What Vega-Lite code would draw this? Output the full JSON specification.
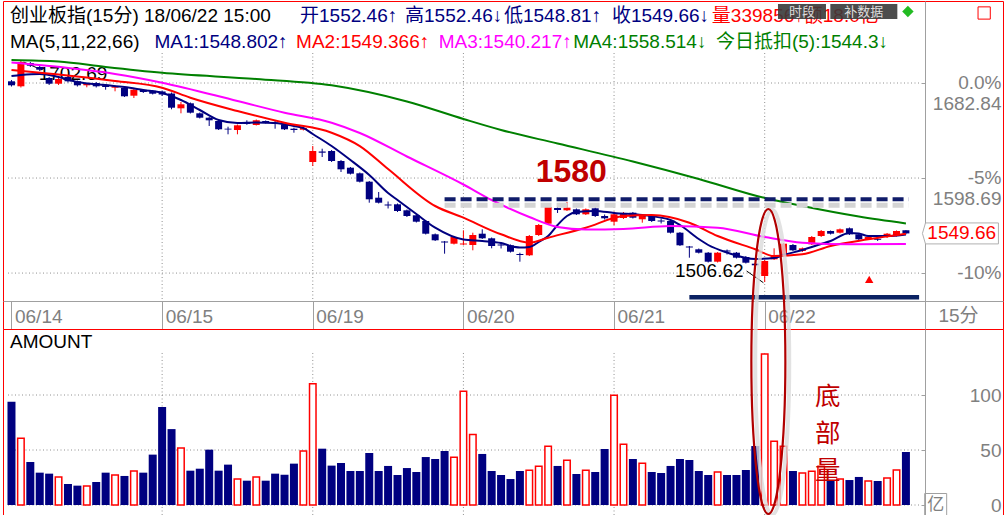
{
  "$schema": "https://vega.github.io/schema/vega-lite/v6.json",
  "background": "white",
  "padding": {"left": 2, "top": 0, "right": 0, "bottom": 0},
  "bounds": "flush",
  "spacing": 0,
  "config": {
    "view": {"stroke": "#ff0000", "strokeWidth": 1},
    "axis": {"labelFont": "Liberation Sans, Noto Sans CJK SC", "labelFontSize": 19, "labelColor": "#808080", "domainColor": "#a0a0a0", "tickColor": "#a0a0a0", "grid": false, "title": null}
  },
  "datasets": {
    "candles": [
      {"i":0,"o":1684.35,"h":1685.50,"l":1679.74,"c":1680.80,"amt":93.9,"d":"dn"},
      {"i":1,"o":1679.92,"h":1702.69,"l":1678.86,"c":1701.43,"amt":60.6,"d":"up"},
      {"i":2,"o":1700.55,"h":1701.43,"l":1697.01,"c":1698.16,"amt":39.1,"d":"dn"},
      {"i":3,"o":1697.01,"h":1697.89,"l":1693.46,"c":1694.62,"amt":29.4,"d":"dn"},
      {"i":4,"o":1687.27,"h":1688.15,"l":1681.07,"c":1682.22,"amt":28.5,"d":"dn"},
      {"i":5,"o":1682.22,"h":1687.27,"l":1681.07,"c":1686.38,"amt":25.5,"d":"up"},
      {"i":6,"o":1688.15,"h":1689.04,"l":1683.28,"c":1684.35,"amt":19.1,"d":"dn"},
      {"i":7,"o":1684.35,"h":1685.05,"l":1679.74,"c":1680.80,"amt":17.6,"d":"dn"},
      {"i":8,"o":1680.80,"h":1682.84,"l":1679.03,"c":1682.22,"amt":17.3,"d":"up"},
      {"i":9,"o":1682.84,"h":1683.73,"l":1678.86,"c":1679.92,"amt":20.9,"d":"dn"},
      {"i":10,"o":1680.80,"h":1681.96,"l":1676.91,"c":1679.30,"amt":29.4,"d":"dn"},
      {"i":11,"o":1678.68,"h":1680.63,"l":1675.49,"c":1679.92,"amt":27.3,"d":"up"},
      {"i":12,"o":1678.41,"h":1678.86,"l":1670.45,"c":1671.07,"amt":26.4,"d":"dn"},
      {"i":13,"o":1671.60,"h":1677.53,"l":1669.56,"c":1676.91,"amt":30.9,"d":"up"},
      {"i":14,"o":1676.91,"h":1677.53,"l":1673.99,"c":1674.87,"amt":29.4,"d":"dn"},
      {"i":15,"o":1676.02,"h":1676.64,"l":1672.66,"c":1673.37,"amt":45.8,"d":"dn"},
      {"i":16,"o":1675.32,"h":1676.20,"l":1671.33,"c":1672.66,"amt":89.0,"d":"dn"},
      {"i":17,"o":1673.54,"h":1674.43,"l":1659.56,"c":1660.97,"amt":69.0,"d":"dn"},
      {"i":18,"o":1660.44,"h":1666.02,"l":1656.01,"c":1663.98,"amt":51.8,"d":"up"},
      {"i":19,"o":1664.87,"h":1665.58,"l":1655.84,"c":1656.55,"amt":31.2,"d":"dn"},
      {"i":20,"o":1656.01,"h":1656.72,"l":1651.41,"c":1652.12,"amt":33.0,"d":"dn"},
      {"i":21,"o":1652.12,"h":1652.74,"l":1644.77,"c":1649.82,"amt":50.3,"d":"dn"},
      {"i":22,"o":1649.20,"h":1649.82,"l":1641.23,"c":1641.85,"amt":31.2,"d":"dn"},
      {"i":23,"o":1642.38,"h":1644.15,"l":1637.42,"c":1641.67,"amt":36.7,"d":"dn"},
      {"i":24,"o":1641.23,"h":1646.10,"l":1637.42,"c":1645.39,"amt":23.6,"d":"up"},
      {"i":25,"o":1647.43,"h":1649.82,"l":1645.83,"c":1646.54,"amt":22.1,"d":"dn"},
      {"i":26,"o":1645.66,"h":1650.53,"l":1645.21,"c":1649.82,"amt":25.5,"d":"up"},
      {"i":27,"o":1649.20,"h":1649.64,"l":1646.98,"c":1647.69,"amt":22.1,"d":"dn"},
      {"i":28,"o":1647.69,"h":1649.20,"l":1642.38,"c":1646.54,"amt":28.5,"d":"dn"},
      {"i":29,"o":1646.28,"h":1646.98,"l":1641.23,"c":1641.85,"amt":27.5,"d":"dn"},
      {"i":30,"o":1642.38,"h":1643.27,"l":1638.84,"c":1641.23,"amt":37.6,"d":"dn"},
      {"i":31,"o":1641.49,"h":1643.88,"l":1640.79,"c":1643.00,"amt":49.1,"d":"up"},
      {"i":32,"o":1612.90,"h":1627.06,"l":1609.36,"c":1622.64,"amt":110.3,"d":"up"},
      {"i":33,"o":1622.19,"h":1624.67,"l":1617.32,"c":1621.13,"amt":51.2,"d":"dn"},
      {"i":34,"o":1622.64,"h":1623.52,"l":1612.90,"c":1613.78,"amt":35.8,"d":"dn"},
      {"i":35,"o":1613.78,"h":1614.67,"l":1604.04,"c":1606.43,"amt":38.2,"d":"dn"},
      {"i":36,"o":1607.85,"h":1608.47,"l":1601.83,"c":1602.54,"amt":30.9,"d":"dn"},
      {"i":37,"o":1602.89,"h":1603.60,"l":1594.75,"c":1595.46,"amt":30.9,"d":"dn"},
      {"i":38,"o":1595.46,"h":1596.08,"l":1576.86,"c":1579.87,"amt":47.3,"d":"dn"},
      {"i":39,"o":1581.29,"h":1586.34,"l":1576.16,"c":1576.86,"amt":30.9,"d":"dn"},
      {"i":40,"o":1575.27,"h":1577.93,"l":1571.73,"c":1574.39,"amt":35.5,"d":"dn"},
      {"i":41,"o":1575.45,"h":1576.16,"l":1568.63,"c":1569.52,"amt":27.3,"d":"dn"},
      {"i":42,"o":1570.13,"h":1570.84,"l":1564.20,"c":1565.09,"amt":33.6,"d":"dn"},
      {"i":43,"o":1565.71,"h":1566.42,"l":1559.33,"c":1560.04,"amt":30.0,"d":"dn"},
      {"i":44,"o":1560.66,"h":1561.55,"l":1548.71,"c":1549.42,"amt":43.6,"d":"dn"},
      {"i":45,"o":1548.89,"h":1549.60,"l":1542.96,"c":1543.58,"amt":41.8,"d":"dn"},
      {"i":46,"o":1542.51,"h":1542.96,"l":1531.71,"c":1541.63,"amt":49.1,"d":"dn"},
      {"i":47,"o":1540.57,"h":1547.38,"l":1539.86,"c":1546.50,"amt":43.3,"d":"up"},
      {"i":48,"o":1539.86,"h":1552.43,"l":1539.41,"c":1540.74,"amt":103.3,"d":"up"},
      {"i":49,"o":1539.41,"h":1550.30,"l":1534.72,"c":1548.27,"amt":64.2,"d":"up"},
      {"i":50,"o":1549.42,"h":1553.31,"l":1544.73,"c":1545.35,"amt":46.4,"d":"dn"},
      {"i":51,"o":1545.35,"h":1546.05,"l":1536.49,"c":1538.53,"amt":30.9,"d":"dn"},
      {"i":52,"o":1539.86,"h":1541.63,"l":1536.32,"c":1538.97,"amt":27.3,"d":"dn"},
      {"i":53,"o":1539.15,"h":1539.86,"l":1532.77,"c":1533.48,"amt":23.6,"d":"dn"},
      {"i":54,"o":1531.45,"h":1532.60,"l":1524.63,"c":1530.56,"amt":30.9,"d":"dn"},
      {"i":55,"o":1530.29,"h":1548.27,"l":1529.67,"c":1547.38,"amt":31.5,"d":"up"},
      {"i":56,"o":1548.27,"h":1558.01,"l":1547.38,"c":1557.12,"amt":35.2,"d":"up"},
      {"i":57,"o":1558.27,"h":1573.94,"l":1557.56,"c":1573.06,"amt":53.3,"d":"up"},
      {"i":58,"o":1572.17,"h":1573.94,"l":1567.75,"c":1570.40,"amt":35.5,"d":"dn"},
      {"i":59,"o":1570.13,"h":1577.48,"l":1569.52,"c":1572.44,"amt":40.6,"d":"up"},
      {"i":60,"o":1571.02,"h":1571.73,"l":1565.97,"c":1566.59,"amt":28.2,"d":"dn"},
      {"i":61,"o":1566.59,"h":1571.73,"l":1565.97,"c":1571.02,"amt":31.5,"d":"up"},
      {"i":62,"o":1571.91,"h":1572.61,"l":1564.20,"c":1565.09,"amt":30.0,"d":"dn"},
      {"i":63,"o":1565.09,"h":1566.42,"l":1561.99,"c":1563.05,"amt":50.9,"d":"dn"},
      {"i":64,"o":1560.04,"h":1568.90,"l":1556.86,"c":1566.59,"amt":99.7,"d":"up"},
      {"i":65,"o":1563.32,"h":1568.63,"l":1562.43,"c":1567.75,"amt":55.2,"d":"up"},
      {"i":66,"o":1568.01,"h":1568.63,"l":1562.88,"c":1563.58,"amt":41.8,"d":"dn"},
      {"i":67,"o":1562.17,"h":1565.97,"l":1559.16,"c":1565.09,"amt":37.9,"d":"up"},
      {"i":68,"o":1565.09,"h":1565.97,"l":1559.78,"c":1560.66,"amt":30.0,"d":"dn"},
      {"i":69,"o":1561.10,"h":1562.88,"l":1558.45,"c":1560.22,"amt":29.1,"d":"dn"},
      {"i":70,"o":1560.66,"h":1561.55,"l":1549.60,"c":1550.30,"amt":35.5,"d":"dn"},
      {"i":71,"o":1550.30,"h":1550.92,"l":1538.53,"c":1539.15,"amt":41.8,"d":"dn"},
      {"i":72,"o":1538.09,"h":1538.53,"l":1528.17,"c":1537.20,"amt":40.9,"d":"dn"},
      {"i":73,"o":1535.61,"h":1536.32,"l":1531.89,"c":1532.60,"amt":30.9,"d":"dn"},
      {"i":74,"o":1532.60,"h":1533.22,"l":1523.92,"c":1524.63,"amt":27.3,"d":"dn"},
      {"i":75,"o":1524.63,"h":1533.22,"l":1523.92,"c":1532.60,"amt":30.0,"d":"up"},
      {"i":76,"o":1534.54,"h":1535.43,"l":1531.00,"c":1533.66,"amt":27.3,"d":"dn"},
      {"i":77,"o":1532.60,"h":1533.22,"l":1527.46,"c":1528.17,"amt":27.3,"d":"dn"},
      {"i":78,"o":1528.79,"h":1529.67,"l":1523.03,"c":1523.74,"amt":31.8,"d":"dn"},
      {"i":79,"o":1522.86,"h":1523.48,"l":1520.82,"c":1521.44,"amt":53.6,"d":"dn"},
      {"i":80,"o":1511.97,"h":1526.13,"l":1506.62,"c":1525.25,"amt":137.3,"d":"up"},
      {"i":81,"o":1526.75,"h":1536.49,"l":1526.13,"c":1530.56,"amt":57.9,"d":"up"},
      {"i":82,"o":1529.67,"h":1541.18,"l":1528.79,"c":1540.57,"amt":53.3,"d":"up"},
      {"i":83,"o":1539.41,"h":1540.30,"l":1534.10,"c":1534.72,"amt":30.9,"d":"dn"},
      {"i":84,"o":1534.10,"h":1537.20,"l":1533.22,"c":1536.49,"amt":29.1,"d":"up"},
      {"i":85,"o":1540.03,"h":1547.38,"l":1539.41,"c":1546.50,"amt":30.6,"d":"up"},
      {"i":86,"o":1547.38,"h":1552.69,"l":1546.50,"c":1551.81,"amt":35.2,"d":"up"},
      {"i":87,"o":1551.81,"h":1552.25,"l":1548.71,"c":1549.42,"amt":21.8,"d":"dn"},
      {"i":88,"o":1550.30,"h":1554.02,"l":1549.60,"c":1553.31,"amt":23.6,"d":"up"},
      {"i":89,"o":1554.20,"h":1554.91,"l":1548.27,"c":1548.89,"amt":22.7,"d":"dn"},
      {"i":90,"o":1548.89,"h":1549.60,"l":1543.84,"c":1544.46,"amt":25.5,"d":"dn"},
      {"i":91,"o":1544.46,"h":1546.94,"l":1543.84,"c":1546.50,"amt":21.8,"d":"up"},
      {"i":92,"o":1544.90,"h":1546.50,"l":1542.96,"c":1544.02,"amt":21.8,"d":"dn"},
      {"i":93,"o":1546.50,"h":1550.04,"l":1545.61,"c":1549.42,"amt":24.5,"d":"up"},
      {"i":94,"o":1547.38,"h":1552.25,"l":1546.94,"c":1551.81,"amt":31.8,"d":"up"},
      {"i":95,"o":1552.46,"h":1552.46,"l":1548.81,"c":1549.66,"amt":48.2,"d":"dn"}
    ],
    "ma": [
      {"ma":"MA1","i":0,"v":1689.04},{"ma":"MA1","i":1,"v":1689.93},{"ma":"MA1","i":3,"v":1690.81},{"ma":"MA1","i":5,"v":1688.15},{"ma":"MA1","i":7,"v":1683.73},{"ma":"MA1","i":10,"v":1681.07},{"ma":"MA1","i":12,"v":1679.30},{"ma":"MA1","i":14,"v":1676.64},{"ma":"MA1","i":16,"v":1673.99},{"ma":"MA1","i":18,"v":1667.79},{"ma":"MA1","i":20,"v":1658.94},{"ma":"MA1","i":22,"v":1650.08},{"ma":"MA1","i":24,"v":1647.43},{"ma":"MA1","i":26,"v":1647.87},{"ma":"MA1","i":28,"v":1647.43},{"ma":"MA1","i":30,"v":1644.77},{"ma":"MA1","i":31,"v":1643.00},{"ma":"MA1","i":32,"v":1637.68},{"ma":"MA1","i":34,"v":1627.06},{"ma":"MA1","i":36,"v":1614.67},{"ma":"MA1","i":38,"v":1601.39},{"ma":"MA1","i":40,"v":1585.45},{"ma":"MA1","i":41,"v":1579.25},{"ma":"MA1","i":43,"v":1566.86},{"ma":"MA1","i":45,"v":1554.73},{"ma":"MA1","i":48,"v":1544.28},{"ma":"MA1","i":50,"v":1542.96},{"ma":"MA1","i":52,"v":1541.18},{"ma":"MA1","i":53,"v":1538.53},{"ma":"MA1","i":54,"v":1537.20},{"ma":"MA1","i":55,"v":1537.65},{"ma":"MA1","i":56,"v":1542.07},{"ma":"MA1","i":57,"v":1547.38},{"ma":"MA1","i":58,"v":1557.12},{"ma":"MA1","i":59,"v":1565.09},{"ma":"MA1","i":60,"v":1568.63},{"ma":"MA1","i":62,"v":1569.52},{"ma":"MA1","i":64,"v":1567.75},{"ma":"MA1","i":67,"v":1565.97},{"ma":"MA1","i":70,"v":1561.55},{"ma":"MA1","i":71,"v":1557.12},{"ma":"MA1","i":73,"v":1544.73},{"ma":"MA1","i":74,"v":1539.41},{"ma":"MA1","i":76,"v":1532.77},{"ma":"MA1","i":79,"v":1527.02},{"ma":"MA1","i":81,"v":1527.90},{"ma":"MA1","i":82,"v":1530.56},{"ma":"MA1","i":84,"v":1534.98},{"ma":"MA1","i":86,"v":1540.30},{"ma":"MA1","i":87,"v":1542.96},{"ma":"MA1","i":89,"v":1550.04},{"ma":"MA1","i":90,"v":1549.60},{"ma":"MA1","i":91,"v":1547.38},{"ma":"MA1","i":93,"v":1547.38},{"ma":"MA1","i":95,"v":1548.80},
      {"ma":"MA2","i":0,"v":1694.35},{"ma":"MA2","i":5,"v":1690.37},{"ma":"MA2","i":11,"v":1684.61},{"ma":"MA2","i":16,"v":1678.68},{"ma":"MA2","i":19,"v":1669.83},{"ma":"MA2","i":24,"v":1658.05},{"ma":"MA2","i":29,"v":1647.69},{"ma":"MA2","i":34,"v":1638.84},{"ma":"MA2","i":37,"v":1627.00},{"ma":"MA2","i":40,"v":1606.64},{"ma":"MA2","i":45,"v":1573.94},{"ma":"MA2","i":48,"v":1563.58},{"ma":"MA2","i":52,"v":1548.89},{"ma":"MA2","i":55,"v":1541.45},{"ma":"MA2","i":57,"v":1545.88},{"ma":"MA2","i":61,"v":1554.73},{"ma":"MA2","i":65,"v":1565.09},{"ma":"MA2","i":68,"v":1565.97},{"ma":"MA2","i":72,"v":1559.16},{"ma":"MA2","i":75,"v":1547.38},{"ma":"MA2","i":79,"v":1535.61},{"ma":"MA2","i":81,"v":1529.67},{"ma":"MA2","i":84,"v":1531.17},{"ma":"MA2","i":87,"v":1538.53},{"ma":"MA2","i":91,"v":1544.46},{"ma":"MA2","i":95,"v":1549.37},
      {"ma":"MA3","i":0,"v":1700.99},{"ma":"MA3","i":4,"v":1697.89},{"ma":"MA3","i":11,"v":1690.81},{"ma":"MA3","i":16,"v":1683.11},{"ma":"MA3","i":24,"v":1666.90},{"ma":"MA3","i":29,"v":1656.55},{"ma":"MA3","i":34,"v":1647.69},{"ma":"MA3","i":37,"v":1638.57},{"ma":"MA3","i":42,"v":1617.77},{"ma":"MA3","i":48,"v":1592.98},{"ma":"MA3","i":51,"v":1579.25},{"ma":"MA3","i":55,"v":1564.20},{"ma":"MA3","i":58,"v":1555.35},{"ma":"MA3","i":61,"v":1553.13},{"ma":"MA3","i":65,"v":1553.58},{"ma":"MA3","i":70,"v":1556.23},{"ma":"MA3","i":75,"v":1554.73},{"ma":"MA3","i":80,"v":1546.50},{"ma":"MA3","i":84,"v":1541.45},{"ma":"MA3","i":89,"v":1540.03},{"ma":"MA3","i":95,"v":1540.22},
      {"ma":"MA4","i":0,"v":1703.20},{"ma":"MA4","i":5,"v":1701.87},{"ma":"MA4","i":10,"v":1697.01},{"ma":"MA4","i":16,"v":1691.87},{"ma":"MA4","i":26,"v":1686.38},{"ma":"MA4","i":34,"v":1680.80},{"ma":"MA4","i":42,"v":1666.46},{"ma":"MA4","i":48,"v":1650.97},{"ma":"MA4","i":52,"v":1641.23},{"ma":"MA4","i":58,"v":1629.28},{"ma":"MA4","i":66,"v":1613.34},{"ma":"MA4","i":73,"v":1597.85},{"ma":"MA4","i":80,"v":1581.03},{"ma":"MA4","i":84,"v":1573.94},{"ma":"MA4","i":90,"v":1564.64},{"ma":"MA4","i":95,"v":1558.51}
    ]
  },
  "vconcat": [
    {
      "width": 1000,
      "height": 328,
      "resolve": {"scale": {"color": "independent"}, "axis": {"x": "independent", "y": "independent"}},
      "layer": [
        {
          "data": {"values": [{"i":16},{"i":32},{"i":48},{"i":64},{"i":80}]},
          "mark": {"type": "rule", "stroke": "#909090", "strokeDash": [1, 2.5], "strokeWidth": 1},
          "encoding": {
            "x": {"field": "i", "type": "quantitative", "scale": {"domain": [-0.37, 104.78], "nice": false, "zero": false},
              "axis": {"orient": "bottom", "offset": -28, "values": [0,16,32,48,64,80], "labelExpr": "datum.value == 0 ? '06/14' : datum.value == 16 ? '06/15' : datum.value == 32 ? '06/19' : datum.value == 48 ? '06/20' : datum.value == 64 ? '06/21' : '06/22'", "tickSize": 28, "labelAlign": "left", "labelBaseline": "middle", "labelPadding": -13, "labelOffset": 3, "labelFlush": false, "labelOverlap": false, "labelBound": false, "grid": false, "title": null}},
            "y": {"datum": 1709.4, "type": "quantitative", "scale": {"domain": [1465.04, 1755.44], "nice": false, "zero": false},
              "axis": {"orient": "right", "offset": -78, "values": [1682.84, 1598.69, 1514.56], "labelExpr": "datum.value > 1680 ? ['0.0%', '1682.84'] : (datum.value > 1590 ? ['-5%', '1598.69'] : '-10%')", "tickSize": -4, "labelPadding": 80, "labelAlign": "right", "labelBaseline": "top", "labelOffset": -10, "labelLineHeight": 21, "labelFlush": false, "labelOverlap": false, "labelBound": false, "grid": false, "title": null}},
            "y2": {"datum": 1489.83}
          }
        },
        {
          "data": {"values": [{"p":1682.84},{"p":1598.69},{"p":1514.56}]},
          "mark": {"type": "rule", "stroke": "#909090", "strokeDash": [1, 2.5], "strokeWidth": 1},
          "encoding": {
            "x": {"datum": -0.37, "type": "quantitative", "axis": null},
            "x2": {"datum": 96.6},
            "y": {"field": "p", "type": "quantitative", "axis": null}
          }
        },
        {
          "data": {"values": [{}]},
          "mark": {"type": "text", "align": "left", "baseline": "middle", "font": "Liberation Sans", "fontSize": 19, "color": "#000000"},
          "encoding": {
            "x": {"datum": 2.89, "type": "quantitative", "axis": null},
            "y": {"datum": 1691.25, "type": "quantitative", "axis": null},
            "text": {"value": "1702.69"}
          }
        },
        {
          "data": {"values": [{}]},
          "mark": {"type": "rule", "stroke": "#000000", "strokeWidth": 1},
          "encoding": {
            "x": {"datum": 1.3, "type": "quantitative", "axis": null},
            "y": {"datum": 1701.4, "type": "quantitative", "axis": null},
            "x2": {"datum": 2.75},
            "y2": {"datum": 1696.12}
          }
        },
        {
          "data": {"name": "candles"},
          "mark": {"type": "rule", "strokeWidth": 1},
          "encoding": {
            "x": {"field": "i", "type": "quantitative", "axis": null},
            "y": {"field": "l", "type": "quantitative", "axis": null},
            "y2": {"field": "h"},
            "color": {"field": "d", "type": "nominal", "scale": {"domain": ["up", "dn"], "range": ["#ff0000", "#000080"]}, "legend": null}
          }
        },
        {
          "data": {"name": "candles"},
          "mark": {"type": "bar", "width": 7},
          "encoding": {
            "x": {"field": "i", "type": "quantitative", "axis": null},
            "y": {"field": "o", "type": "quantitative", "axis": null},
            "y2": {"field": "c"},
            "color": {"field": "d", "type": "nominal", "scale": {"domain": ["up", "dn"], "range": ["#ff0000", "#000080"]}, "legend": null}
          }
        },
        {
          "data": {"name": "ma"},
          "mark": {"type": "line", "strokeWidth": 2, "interpolate": "monotone"},
          "encoding": {
            "x": {"field": "i", "type": "quantitative", "axis": null},
            "y": {"field": "v", "type": "quantitative", "axis": null},
            "color": {"field": "ma", "type": "nominal", "scale": {"domain": ["MA1", "MA2", "MA3", "MA4"], "range": ["#000080", "#ff0000", "#ff00ff", "#008000"]}, "legend": null}
          }
        },
        {
          "data": {"values": [{}]},
          "mark": {"type": "rule", "stroke": "#d4d4d4", "strokeWidth": 5, "strokeDash": [11, 5], "yOffset": 6},
          "encoding": {
            "x": {"datum": 46.0, "type": "quantitative", "axis": null},
            "x2": {"datum": 95.3},
            "y": {"datum": 1580, "type": "quantitative", "axis": null}
          }
        },
        {
          "data": {"values": [{}]},
          "mark": {"type": "rule", "stroke": "#101c6a", "strokeWidth": 4, "strokeDash": [11, 5]},
          "encoding": {
            "x": {"datum": 46.0, "type": "quantitative", "axis": null},
            "x2": {"datum": 95.3},
            "y": {"datum": 1580, "type": "quantitative", "axis": null}
          }
        },
        {
          "data": {"values": [{}]},
          "mark": {"type": "text", "align": "center", "baseline": "middle", "font": "Liberation Sans", "fontSize": 32, "fontWeight": "bold", "color": "#c00000"},
          "encoding": {
            "x": {"datum": 59.46, "type": "quantitative", "axis": null},
            "y": {"datum": 1604.04, "type": "quantitative", "axis": null},
            "text": {"value": "1580"}
          }
        },
        {
          "data": {"values": [{}]},
          "mark": {"type": "rule", "stroke": "#0b2263", "strokeWidth": 4.5},
          "encoding": {
            "x": {"datum": 72.0, "type": "quantitative", "axis": null},
            "x2": {"datum": 96.4},
            "y": {"datum": 1493.11, "type": "quantitative", "axis": null}
          }
        },
        {
          "data": {"values": [{}]},
          "mark": {"type": "text", "align": "right", "baseline": "middle", "font": "Liberation Sans", "fontSize": 19, "color": "#000000"},
          "encoding": {
            "x": {"datum": 77.76, "type": "quantitative", "axis": null},
            "y": {"datum": 1515.96, "type": "quantitative", "axis": null},
            "text": {"value": "1506.62"}
          }
        },
        {
          "data": {"values": [{}]},
          "mark": {"type": "rule", "stroke": "#000000", "strokeWidth": 1},
          "encoding": {
            "x": {"datum": 78.08, "type": "quantitative", "axis": null},
            "y": {"datum": 1516.39, "type": "quantitative", "axis": null},
            "x2": {"datum": 79.86},
            "y2": {"datum": 1506.04}
          }
        },
        {
          "data": {"values": [{}]},
          "mark": {"type": "point", "shape": "triangle-up", "size": 70, "filled": true, "color": "#ff0000", "opacity": 1},
          "encoding": {
            "x": {"datum": 91.1, "type": "quantitative", "axis": null},
            "y": {"datum": 1508.87, "type": "quantitative", "axis": null}
          }
        },
        {
          "data": {"values": [{}]},
          "mark": {"type": "point", "shape": "M-1,0 L-0.92,-0.276 L1,-0.276 L1,0.276 L-0.92,0.276 Z", "size": 5776, "filled": true, "fill": "#ffffff", "stroke": "#b0b0b0", "strokeWidth": 1, "opacity": 1},
          "encoding": {
            "x": {"datum": 100.79, "type": "quantitative", "axis": null},
            "y": {"datum": 1549.66, "type": "quantitative", "axis": null}
          }
        },
        {
          "data": {"values": [{}]},
          "mark": {"type": "text", "align": "right", "baseline": "middle", "font": "Liberation Sans", "fontSize": 19, "color": "#ff0000"},
          "encoding": {
            "x": {"datum": 104.57, "type": "quantitative", "axis": null},
            "y": {"datum": 1549.66, "type": "quantitative", "axis": null},
            "text": {"value": "1549.66"}
          }
        },
        {
          "data": {"values": [{}]},
          "mark": {"type": "text", "align": "center", "baseline": "middle", "font": "Liberation Sans, Noto Sans CJK SC", "fontSize": 19, "color": "#808080"},
          "encoding": {
            "x": {"datum": 100.58, "type": "quantitative", "axis": null},
            "y": {"datum": 1476.55, "type": "quantitative", "axis": null},
            "text": {"value": "15分"}
          }
        },
        {
          "data": {"values": [{}]},
          "mark": {"type": "text", "align": "left", "baseline": "middle", "font": "Liberation Sans, Noto Sans CJK SC", "fontSize": 19, "color": "#000000"},
          "encoding": {"x": {"datum": -0.16, "type": "quantitative", "axis": null}, "y": {"datum": 1742.16, "type": "quantitative", "axis": null}, "text": {"value": "创业板指(15分) 18/06/22 15:00"}}
        },
        {
          "data": {"values": [{}]},
          "mark": {"type": "text", "align": "left", "baseline": "middle", "font": "Liberation Sans, Noto Sans CJK SC", "fontSize": 19, "color": "#000080"},
          "encoding": {"x": {"datum": 30.65, "type": "quantitative", "axis": null}, "y": {"datum": 1742.16, "type": "quantitative", "axis": null}, "text": {"value": "开1552.46↑"}}
        },
        {
          "data": {"values": [{}]},
          "mark": {"type": "text", "align": "left", "baseline": "middle", "font": "Liberation Sans, Noto Sans CJK SC", "fontSize": 19, "color": "#000080"},
          "encoding": {"x": {"datum": 41.8, "type": "quantitative", "axis": null}, "y": {"datum": 1742.16, "type": "quantitative", "axis": null}, "text": {"value": "高1552.46↓"}}
        },
        {
          "data": {"values": [{}]},
          "mark": {"type": "text", "align": "left", "baseline": "middle", "font": "Liberation Sans, Noto Sans CJK SC", "fontSize": 19, "color": "#000080"},
          "encoding": {"x": {"datum": 52.31, "type": "quantitative", "axis": null}, "y": {"datum": 1742.16, "type": "quantitative", "axis": null}, "text": {"value": "低1548.81↑"}}
        },
        {
          "data": {"values": [{}]},
          "mark": {"type": "text", "align": "left", "baseline": "middle", "font": "Liberation Sans, Noto Sans CJK SC", "fontSize": 19, "color": "#000080"},
          "encoding": {"x": {"datum": 63.77, "type": "quantitative", "axis": null}, "y": {"datum": 1742.16, "type": "quantitative", "axis": null}, "text": {"value": "收1549.66↓"}}
        },
        {
          "data": {"values": [{}]},
          "mark": {"type": "text", "align": "left", "baseline": "middle", "font": "Liberation Sans, Noto Sans CJK SC", "fontSize": 19, "color": "#ff0000"},
          "encoding": {"x": {"datum": 74.39, "type": "quantitative", "axis": null}, "y": {"datum": 1742.16, "type": "quantitative", "axis": null}, "text": {"value": "量339856↑额18.0亿"}}
        },
        {
          "data": {"values": [{}]},
          "mark": {"type": "text", "align": "left", "baseline": "middle", "font": "Liberation Sans, Noto Sans CJK SC", "fontSize": 19, "color": "#000000"},
          "encoding": {"x": {"datum": -0.16, "type": "quantitative", "axis": null}, "y": {"datum": 1719.14, "type": "quantitative", "axis": null}, "text": {"value": "MA(5,11,22,66)"}}
        },
        {
          "data": {"values": [{}]},
          "mark": {"type": "text", "align": "left", "baseline": "middle", "font": "Liberation Sans, Noto Sans CJK SC", "fontSize": 19, "color": "#000080"},
          "encoding": {"x": {"datum": 15.19, "type": "quantitative", "axis": null}, "y": {"datum": 1719.14, "type": "quantitative", "axis": null}, "text": {"value": "MA1:1548.802↑"}}
        },
        {
          "data": {"values": [{}]},
          "mark": {"type": "text", "align": "left", "baseline": "middle", "font": "Liberation Sans, Noto Sans CJK SC", "fontSize": 19, "color": "#ff0000"},
          "encoding": {"x": {"datum": 30.23, "type": "quantitative", "axis": null}, "y": {"datum": 1719.14, "type": "quantitative", "axis": null}, "text": {"value": "MA2:1549.366↑"}}
        },
        {
          "data": {"values": [{}]},
          "mark": {"type": "text", "align": "left", "baseline": "middle", "font": "Liberation Sans, Noto Sans CJK SC", "fontSize": 19, "color": "#ff00ff"},
          "encoding": {"x": {"datum": 45.37, "type": "quantitative", "axis": null}, "y": {"datum": 1719.14, "type": "quantitative", "axis": null}, "text": {"value": "MA3:1540.217↑"}}
        },
        {
          "data": {"values": [{}]},
          "mark": {"type": "text", "align": "left", "baseline": "middle", "font": "Liberation Sans, Noto Sans CJK SC", "fontSize": 19, "color": "#008000"},
          "encoding": {"x": {"datum": 59.67, "type": "quantitative", "axis": null}, "y": {"datum": 1719.14, "type": "quantitative", "axis": null}, "text": {"value": "MA4:1558.514↓"}}
        },
        {
          "data": {"values": [{}]},
          "mark": {"type": "text", "align": "left", "baseline": "middle", "font": "Liberation Sans, Noto Sans CJK SC", "fontSize": 19, "color": "#008000"},
          "encoding": {"x": {"datum": 74.82, "type": "quantitative", "axis": null}, "y": {"datum": 1719.14, "type": "quantitative", "axis": null}, "text": {"value": "今日抵扣(5):1544.3↓"}}
        },
        {
          "data": {"values": [{}]},
          "mark": {"type": "point", "shape": "M-1,-0.3125 L1,-0.3125 L1,0.3125 L-1,0.3125 Z", "size": 2304, "filled": true, "color": "#3a3a3a", "opacity": 0.9},
          "encoding": {"x": {"datum": 83.96, "type": "quantitative", "axis": null}, "y": {"datum": 1746.14, "type": "quantitative", "axis": null}}
        },
        {
          "data": {"values": [{}]},
          "mark": {"type": "point", "shape": "M-1,-0.224 L1,-0.224 L1,0.224 L-1,0.224 Z", "size": 4489, "filled": true, "color": "#3a3a3a", "opacity": 0.9},
          "encoding": {"x": {"datum": 90.53, "type": "quantitative", "axis": null}, "y": {"datum": 1746.14, "type": "quantitative", "axis": null}}
        },
        {
          "data": {"values": [{}]},
          "mark": {"type": "text", "align": "center", "baseline": "middle", "font": "Noto Sans CJK SC", "fontSize": 13, "color": "#dddddd"},
          "encoding": {"x": {"datum": 83.96, "type": "quantitative", "axis": null}, "y": {"datum": 1746.14, "type": "quantitative", "axis": null}, "text": {"value": "时段"}}
        },
        {
          "data": {"values": [{}]},
          "mark": {"type": "text", "align": "center", "baseline": "middle", "font": "Noto Sans CJK SC", "fontSize": 13, "color": "#dddddd"},
          "encoding": {"x": {"datum": 90.53, "type": "quantitative", "axis": null}, "y": {"datum": 1746.14, "type": "quantitative", "axis": null}, "text": {"value": "补数据"}}
        },
        {
          "data": {"values": [{}]},
          "mark": {"type": "point", "shape": "diamond", "size": 130, "filled": true, "color": "#22bb22", "opacity": 1},
          "encoding": {"x": {"datum": 95.21, "type": "quantitative", "axis": null}, "y": {"datum": 1746.14, "type": "quantitative", "axis": null}}
        },
        {
          "data": {"values": [{}]},
          "mark": {"type": "point", "shape": "square", "size": 150, "filled": false, "color": "#ff0000", "strokeWidth": 1, "opacity": 1},
          "encoding": {"x": {"datum": 103.31, "type": "quantitative", "axis": null}, "y": {"datum": 1744.82, "type": "quantitative", "axis": null}}
        }
      ]
    },
    {
      "width": 1000,
      "height": 187,
      "resolve": {"axis": {"x": "independent", "y": "independent"}},
      "layer": [
        {
          "data": {"values": [{"i":16},{"i":32},{"i":48},{"i":64},{"i":80}]},
          "mark": {"type": "rule", "stroke": "#909090", "strokeDash": [1, 2.5], "strokeWidth": 1},
          "encoding": {
            "x": {"field": "i", "type": "quantitative", "scale": {"domain": [-0.37, 104.78], "nice": false, "zero": false}, "axis": null},
            "y": {"datum": 138.2, "type": "quantitative", "scale": {"domain": [-10, 160], "nice": false, "zero": false},
              "axis": {"orient": "right", "offset": -78, "values": [0, 50, 100], "tickSize": -4, "labelPadding": 80, "labelAlign": "right", "labelBaseline": "middle", "labelFlush": false, "labelOverlap": false, "labelBound": false, "grid": false, "title": null}},
            "y2": {"datum": -10}
          }
        },
        {
          "data": {"values": [{"v":0},{"v":50},{"v":100}]},
          "mark": {"type": "rule", "stroke": "#909090", "strokeDash": [1, 2.5], "strokeWidth": 1},
          "encoding": {
            "x": {"datum": -0.37, "type": "quantitative", "axis": null},
            "x2": {"datum": 96.6},
            "y": {"field": "v", "type": "quantitative", "axis": null}
          }
        },
        {
          "data": {"name": "candles"},
          "transform": [{"filter": "datum.d == 'dn'"}],
          "mark": {"type": "bar", "width": 8, "color": "#000080"},
          "encoding": {
            "x": {"field": "i", "type": "quantitative", "axis": null},
            "y": {"field": "amt", "type": "quantitative", "axis": null},
            "y2": {"datum": 0}
          }
        },
        {
          "data": {"name": "candles"},
          "transform": [{"filter": "datum.d == 'up'"}],
          "mark": {"type": "bar", "width": 6.5, "fill": "#ffffff", "stroke": "#ff0000", "strokeWidth": 1.5},
          "encoding": {
            "x": {"field": "i", "type": "quantitative", "axis": null},
            "y": {"field": "amt", "type": "quantitative", "axis": null},
            "y2": {"datum": 0}
          }
        },
        {
          "data": {"values": [{}]},
          "mark": {"type": "text", "align": "left", "baseline": "middle", "font": "Liberation Sans", "fontSize": 19, "color": "#000000"},
          "encoding": {"x": {"datum": -0.16, "type": "quantitative", "axis": null}, "y": {"datum": 148.2, "type": "quantitative", "axis": null}, "text": {"value": "AMOUNT"}}
        },
        {
          "data": {"values": [{}]},
          "mark": {"type": "text", "align": "center", "baseline": "middle", "font": "Noto Sans CJK SC", "fontSize": 25.5, "lineHeight": 37, "color": "#c00000"},
          "encoding": {"x": {"datum": 86.7, "type": "quantitative", "axis": null}, "y": {"datum": 98.2, "type": "quantitative", "axis": null}, "text": {"value": ["底", "部", "量"]}}
        },
        {
          "data": {"values": [{}]},
          "mark": {"type": "point", "shape": "M0,-1 C0.0616,-1 0.1115,-0.5523 0.1115,0 C0.1115,0.5523 0.0616,1 0,1 C-0.0616,1 -0.1115,0.5523 -0.1115,0 C-0.1115,-0.5523 -0.0616,-1 0,-1 Z", "size": 93025, "filled": false, "stroke": "#dcdcdc", "strokeWidth": 4, "opacity": 0.8},
          "encoding": {"x": {"datum": 80.8, "type": "quantitative", "axis": null}, "y": {"datum": 129.8, "type": "quantitative", "axis": null}}
        },
        {
          "data": {"values": [{}]},
          "mark": {"type": "point", "shape": "M0,-1 C0.0616,-1 0.1115,-0.5523 0.1115,0 C0.1115,0.5523 0.0616,1 0,1 C-0.0616,1 -0.1115,0.5523 -0.1115,0 C-0.1115,-0.5523 -0.0616,-1 0,-1 Z", "size": 93025, "filled": false, "stroke": "#b00000", "strokeWidth": 2.2, "opacity": 1},
          "encoding": {"x": {"datum": 80.39, "type": "quantitative", "axis": null}, "y": {"datum": 130.45, "type": "quantitative", "axis": null}}
        },
        {
          "data": {"values": [{}]},
          "mark": {"type": "point", "shape": "square", "size": 484, "filled": false, "stroke": "#a0a0a0", "strokeWidth": 1, "opacity": 1},
          "encoding": {"x": {"datum": 98.16, "type": "quantitative", "axis": null}, "y": {"datum": 0.45, "type": "quantitative", "axis": null}}
        },
        {
          "data": {"values": [{}]},
          "mark": {"type": "text", "align": "center", "baseline": "middle", "font": "Noto Sans CJK SC", "fontSize": 17, "color": "#808080"},
          "encoding": {"x": {"datum": 98.16, "type": "quantitative", "axis": null}, "y": {"datum": 0.0, "type": "quantitative", "axis": null}, "text": {"value": "亿"}}
        }
      ]
    }
  ]
}
